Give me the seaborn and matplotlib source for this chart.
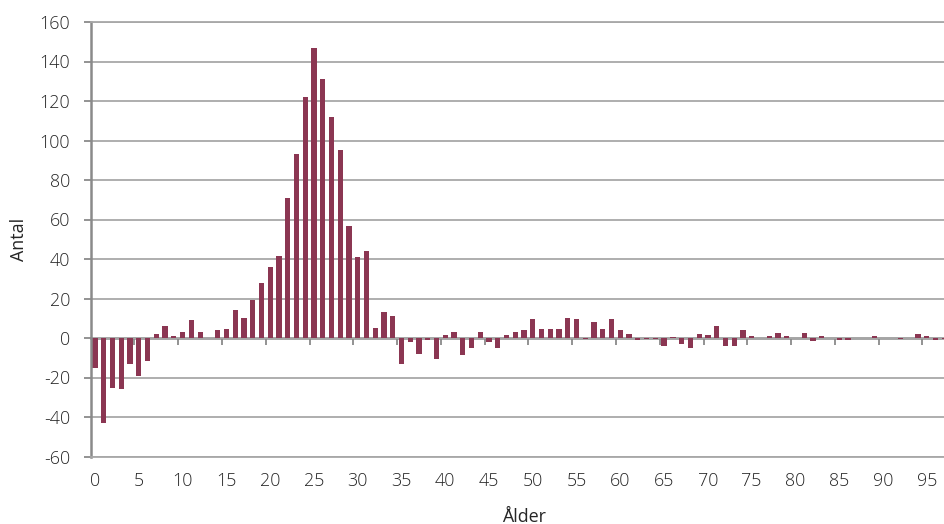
import matplotlib
matplotlib.use("Agg")
import matplotlib.pyplot as plt
import seaborn as sns
import pandas as pd

ages = list(range(0, 98))
antal = [
    -15, -43, -25.5, -26, -13, -19, -11.5, 2, 6, 1,
    3, 9, 3, 0, 4, 4.5, 14, 10, 19, 28,
    36, 41.5, 71, 93, 122, 147, 131, 112, 95, 56.5,
    41, 44, 5, 13, 11, -13, -2, -8, -1, -10.8,
    1.5, 3, -8.5, -5, 3, -2, -5, 1.5, 3, 4,
    9.5, 4.5, 4.5, 4.5, 10, 9.5, -0.5, 8, 4.5, 9.5,
    4, 2, -1, -0.5, -0.5, -4, 0.5, -3, -5, 2,
    1.5, 6, -4, -4, 4, 1, 0, 1, 2.5, 1,
    0, 2.5, -1.5, 1, 0, -1, -1, 0, 0, 1,
    0, 0, -0.5, 0, 2, 1, -1, -0.5,
]
x_tick_labels = [str(v) for v in range(0, 96, 5)]
y_ticks = list(range(-60, 161, 20))
x_title = "Ålder"
y_title = "Antal"

bar_color = "#8B3652"
grid_color = "#A8A8A8"
axis_color = "#8A8A8A"
text_color = "#262626"

sns.set_theme(style="white")
plt.rcParams["font.family"] = ["Open Sans", "DejaVu Sans"]
plt.rcParams["font.weight"] = "light"

df = pd.DataFrame({"age": ages, "antal": antal})

fig = plt.figure(figsize=(9.45, 5.24), dpi=100)
ax = fig.add_axes([90.7 / 945, 67.5 / 524, (957.4 - 90.7) / 945, (502 - 67.5) / 524])

sns.barplot(data=df, x="age", y="antal", order=ages, color=bar_color,
            saturation=1, width=0.6, linewidth=0, ax=ax)

ax.set_xlim(-0.5, 98.5)
ax.set_ylim(-60, 160)
ax.set_yticks(y_ticks)
ax.set_yticklabels([str(v) for v in y_ticks])
ax.set_xticks(list(range(0, 96, 5)))
ax.set_xticklabels(x_tick_labels)

ax.set_axisbelow(True)
ax.yaxis.grid(True, color=grid_color, linewidth=1.3)
ax.xaxis.grid(False)

ax.spines["right"].set_visible(False)
ax.spines["top"].set_color(grid_color)
ax.spines["top"].set_linewidth(1.3)
ax.spines["bottom"].set_color(grid_color)
ax.spines["bottom"].set_linewidth(1.3)
ax.spines["left"].set_color(axis_color)
ax.spines["left"].set_linewidth(1.8)

ax.tick_params(axis="y", direction="out", length=5.3, width=1.3, color=axis_color,
               pad=9.5, labelsize=12.9, labelcolor=text_color, left=True)
ax.tick_params(axis="x", length=0, pad=11, labelsize=12.9, labelcolor=text_color, bottom=True)

sec = ax.secondary_xaxis(0, transform=ax.transData)
sec.set_xticks([b - 0.5 for b in range(5, 100, 5)])
sec.set_xticklabels([])
sec.tick_params(axis="x", direction="out", length=5, width=1.3, color=axis_color)
sec.spines["bottom"].set_color(axis_color)
sec.spines["bottom"].set_linewidth(1.8)

ax.set_xlabel(x_title, fontsize=12.9, color=text_color, labelpad=13)
ax.set_ylabel(y_title, fontsize=12.9, color=text_color, labelpad=8)

fig.savefig("out.png", dpi=100)
